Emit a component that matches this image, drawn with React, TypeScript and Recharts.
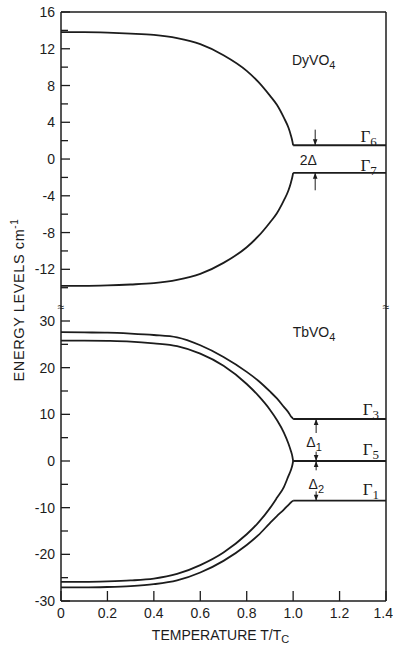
import React from 'react';
import { LineChart, Line, XAxis, YAxis, ReferenceLine, ReferenceDot, Label } from 'recharts';

// temperature grid for the split-off curves (T/Tc), denser near Tc
const curveT = [0, 0.1, 0.2, 0.3, 0.4, 0.5, 0.6, 0.7, 0.8, 0.85, 0.9, 0.93, 0.96, 0.98, 0.99, 0.997, 1.0];
const flatT = [1.0, 1.4];

// DyVO4 levels (cm^-1)
const dyUpper = [13.8, 13.8, 13.75, 13.65, 13.5, 13.15, 12.5, 11.3, 9.6, 8.4, 6.9, 5.9, 4.5, 3.4, 2.6, 1.9, 1.5];
const dyLower = [-13.8, -13.8, -13.75, -13.65, -13.5, -13.15, -12.5, -11.3, -9.6, -8.4, -6.9, -5.9, -4.5, -3.4, -2.6, -1.9, -1.5];
const dyLevels = [1.5, -1.5];

// TbVO4 levels (cm^-1)
const tbOuterUpper = [27.6, 27.55, 27.5, 27.3, 27.0, 26.5, 24.8, 22.3, 19.1, 17.2, 14.9, 13.4, 11.6, 10.4, 9.6, 9.2, 9.0];
const tbInnerUpper = [25.8, 25.8, 25.75, 25.6, 25.2, 24.6, 23.0, 20.4, 16.5, 14.0, 11.0, 8.8, 6.1, 3.7, 2.2, 0.9, 0];
const tbInnerLower = [-25.9, -25.9, -25.8, -25.6, -25.2, -24.2, -22.3, -19.6, -15.7, -13.2, -10.1, -7.9, -5.6, -3.2, -2.0, -0.8, 0];
const tbOuterLower = [-27.1, -27.1, -27.0, -26.8, -26.4, -25.6, -23.9, -21.4, -18.0, -15.9, -13.3, -11.8, -10.4, -9.4, -8.9, -8.6, -8.5];
const tbLevels = [9.0, 0, -8.5];

// ticks
const xTicks = [0, 0.2, 0.4, 0.6, 0.8, 1.0, 1.2, 1.4];
const dyTicks = [-14, -12, -10, -8, -6, -4, -2, 0, 2, 4, 6, 8, 10, 12, 14, 16];
const dyLabelled = [-12, -8, -4, 0, 4, 8, 12, 16];
const tbTicks = [-30, -25, -20, -15, -10, -5, 0, 5, 10, 15, 20, 25, 30];
const tbLabelled = [-30, -20, -10, 0, 10, 20, 30];

// gap arrows: [T, tail, head]
const dyArrows = [[1.095, 3.2, 1.5], [1.095, -3.4, -1.5]];
const tbArrows = [[1.099, 6.0, 9.0], [1.099, 2.0, 0], [1.099, -2.0, 0], [1.099, -6.5, -8.5]];

const ink = '#1c1c1c';
const sans = '"Liberation Sans", Arial, sans-serif';
const serif = '"Liberation Serif", "Times New Roman", serif';

const toPoints = (ts: number[], es: number[]) => ts.map((t, i) => ({ t, e: es[i] }));

const YTick = (props: any) => {
  const { x, y, payload, labelled } = props;
  const major = labelled.includes(payload.value);
  return (
    <g>
      <line x1={x} x2={x + (major ? 9 : 7)} y1={y} y2={y} stroke={ink} strokeWidth={1.3} />
      {major && (
        <text x={x - 6} y={y} dy='0.36em' textAnchor='end' fontSize={14} fontFamily={sans} fill={ink}>
          {payload.value}
        </text>
      )}
    </g>
  );
};

const XTick = (props: any) => {
  const { x, y, payload } = props;
  const v = payload.value;
  const last = v === 1.4;
  return (
    <g>
      <line x1={x} x2={x} y1={y} y2={y - 10} stroke={ink} strokeWidth={1.3} />
      <text
        x={last ? x + 7 : x}
        y={y + 17}
        textAnchor={last ? 'end' : 'middle'}
        fontSize={14}
        fontFamily={sans}
        fill={ink}
      >
        {v === 0 ? '0' : v.toFixed(1)}
      </text>
    </g>
  );
};

const curve = (ts: number[], es: number[], key: string) => (
  <Line
    key={key}
    data={toPoints(ts, es)}
    dataKey='e'
    type='monotone'
    stroke={ink}
    strokeWidth={1.8}
    dot={false}
    isAnimationActive={false}
  />
);

const note = (t: number, e: number, content: React.ReactNode, key: string, family = sans, anchor = 'middle') => (
  <ReferenceDot
    key={key}
    x={t}
    y={e}
    r={0}
    ifOverflow='visible'
    shape={(p: any) => (
      <text x={p.cx} y={p.cy} dy='0.36em' textAnchor={anchor} fontSize={14} fontFamily={family} fill={ink}>
        {content}
      </text>
    )}
  />
);

const gamma = (n: string) => (
  <>
    <tspan fontSize={17}>Γ</tspan>
    <tspan fontSize={13} dy={4}>{n}</tspan>
  </>
);

const arrows = (list: number[][], prefix: string) =>
  list.map(([t, tail, head], i) => [
    <ReferenceLine
      key={`${prefix}s${i}`}
      segment={[{ x: t, y: tail }, { x: t, y: head }]}
      stroke={ink}
      strokeWidth={1}
    />,
    <ReferenceDot
      key={`${prefix}h${i}`}
      x={t}
      y={head}
      r={0}
      shape={(p: any) => {
        const s = head > tail ? 1 : -1;
        return (
          <polygon
            points={`${p.cx - 2.3},${p.cy + s * 6} ${p.cx + 2.3},${p.cy + s * 6} ${p.cx},${p.cy}`}
            fill={ink}
          />
        );
      }}
    />,
  ]);

const DyPanel = () => (
  <LineChart width={393} height={307} margin={{ top: 12, right: 7, bottom: 0, left: 0 }}>
    <XAxis type='number' dataKey='t' domain={[0, 1.4]} hide />
    <YAxis
      type='number'
      domain={[-16.1, 16]}
      allowDataOverflow
      ticks={dyTicks}
      interval={0}
      width={61}
      tickSize={0}
      tickMargin={0}
      tickLine={false}
      axisLine={{ stroke: ink, strokeWidth: 1.5 }}
      tick={<YTick labelled={dyLabelled} />}
    />
    <ReferenceLine y={16} stroke={ink} strokeWidth={1.5} />
    <ReferenceLine x={1.4} stroke={ink} strokeWidth={1.5} />
    {curve(curveT, dyUpper, 'dyU')}
    {curve(curveT, dyLower, 'dyL')}
    {dyLevels.map((v, i) => curve(flatT, [v, v], `dyF${i}`))}
    {arrows(dyArrows, 'dy')}
    {note(0.995, 10.8, <>DyVO<tspan fontSize={11} dy={4}>4</tspan></>, 'dyName', sans, 'start')}
    {note(1.065, -0.1, '2Δ', 'dyGap')}
    {note(1.325, 2.4, gamma('6'), 'g6', serif)}
    {note(1.325, -0.7, gamma('7'), 'g7', serif)}
  </LineChart>
);

const TbPanel = () => (
  <LineChart width={393} height={340} margin={{ top: 0, right: 7, bottom: 0, left: 0 }}>
    <XAxis
      type='number'
      dataKey='t'
      domain={[0, 1.4]}
      ticks={xTicks}
      interval={0}
      height={46}
      tickSize={0}
      tickMargin={0}
      tickLine={false}
      axisLine={{ stroke: ink, strokeWidth: 1.5 }}
      tick={<XTick />}
    >
      <Label
        content={(p: any) => {
          const vb = p.viewBox;
          return (
            <text x={vb.x + vb.width / 2 - 3} y={vb.y + 39} textAnchor='middle' fontSize={14} fontFamily={sans} fill={ink}>
              TEMPERATURE T/T<tspan fontSize={11} dy={3}>C</tspan>
            </text>
          );
        }}
      />
    </XAxis>
    <YAxis
      type='number'
      domain={[-30, 33]}
      allowDataOverflow
      ticks={tbTicks}
      interval={0}
      width={61}
      tickSize={0}
      tickMargin={0}
      tickLine={false}
      axisLine={{ stroke: ink, strokeWidth: 1.5 }}
      tick={<YTick labelled={tbLabelled} />}
    />
    <ReferenceLine x={1.4} stroke={ink} strokeWidth={1.5} />
    {curve(curveT, tbOuterUpper, 'tbOU')}
    {curve(curveT, tbInnerUpper, 'tbIU')}
    {curve(curveT, tbInnerLower, 'tbIL')}
    {curve(curveT, tbOuterLower, 'tbOL')}
    {tbLevels.map((v, i) => curve(flatT, [v, v], `tbF${i}`))}
    {arrows(tbArrows, 'tb')}
    {note(0.998, 27.6, <>TbVO<tspan fontSize={11} dy={4}>4</tspan></>, 'tbName', sans, 'start')}
    {note(1.09, 4.1, <>Δ<tspan fontSize={11} dy={4}>1</tspan></>, 'd1')}
    {note(1.1, -4.9, <>Δ<tspan fontSize={11} dy={4}>2</tspan></>, 'd2')}
    {note(1.335, 10.9, gamma('3'), 'g3', serif)}
    {note(1.335, 2.4, gamma('5'), 'g5', serif)}
    {note(1.335, -6.2, gamma('1'), 'g1', serif)}
  </LineChart>
);

export default function App() {
  return (
    <div style={{ position: 'absolute', left: 0, top: 0, width: 393, height: 647, background: '#fff' }}>
      <DyPanel />
      <TbPanel />
      {/* axis title and scale-break marks */}
      <svg width={393} height={647} style={{ position: 'absolute', left: 0, top: 0, pointerEvents: 'none' }}>
        <text
          transform='translate(24, 300) rotate(-90)'
          textAnchor='middle'
          fontSize={14.5}
          fontFamily={sans}
          fill={ink}
          letterSpacing={0.6}
        >
          ENERGY LEVELS cm<tspan fontSize={10} dy={-6}>-1</tspan>
        </text>
        <text x={61} y={311} textAnchor='middle' fontSize={12} fontFamily={sans} fill={ink}>≈</text>
        <text x={386} y={311} textAnchor='middle' fontSize={12} fontFamily={sans} fill={ink}>≈</text>
      </svg>
    </div>
  );
}
